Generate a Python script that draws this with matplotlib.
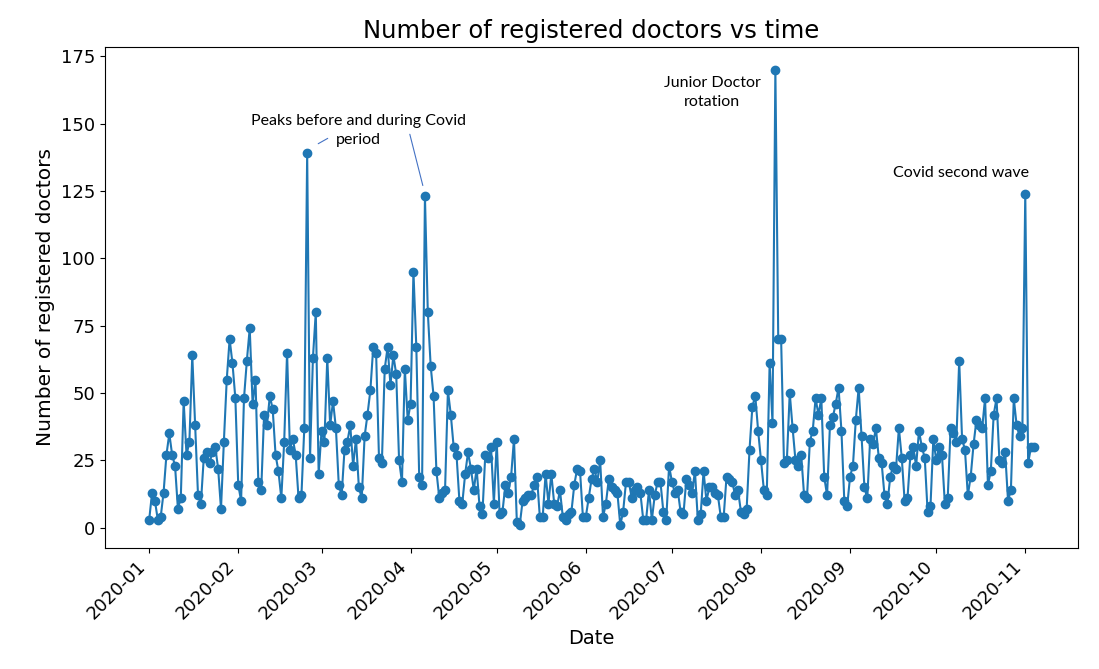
import matplotlib
matplotlib.use("Agg")
import matplotlib.pyplot as plt
import matplotlib.dates as mdates
import pandas as pd

# daily registrations
jan = [3, 13, 10, 3, 4, 13, 27, 35, 27, 23, 7, 11, 47, 27, 32, 64, 38, 12, 9, 26,
       28, 24, 28, 30, 22, 7, 32, 55, 70, 61, 48, 16, 10]
feb = [48, 62, 74, 46, 55, 17, 14, 42, 38, 49, 44, 27, 21, 11, 32, 65, 29, 33, 27, 11,
       12, 37, 139, 26, 63, 80, 20, 36, 32]
mar = [63, 38, 47, 37, 16, 12, 29, 32, 38, 23, 33, 15, 11, 34, 42, 51, 67, 65, 26, 24,
       59, 67, 53, 64, 57, 25, 17, 59, 40, 46, 95]
apr = [67, 19, 16, 123, 80, 60, 49, 21, 11, 13, 14, 51, 42, 30, 27, 10, 9, 20, 28, 22,
       14, 22, 8, 5, 27, 26, 30, 9, 32, 5]
may = [6, 16, 13, 19, 33, 2, 1, 10, 11, 12, 12, 16, 19, 4, 4, 20, 9, 20, 9, 8, 14, 4,
       3, 5, 6, 16, 22, 21, 4, 4, 11, 18, 22]
jun = [17, 25, 4, 9, 18, 15, 14, 13, 1, 6, 17, 17, 11, 14, 15, 13, 3, 3, 14, 3, 12,
       17, 17, 6, 3, 23, 17, 13, 14, 6, 5]
jul = [18, 16, 13, 21, 3, 5, 21, 10, 15, 15, 13, 12, 4, 4, 19, 18, 17, 12, 14, 6, 5, 7,
       29, 45, 49, 36, 25, 14, 12, 61, 39, 170, 70]
aug = [70, 24, 25, 50, 37, 25, 23, 27, 12, 11, 32, 36, 48, 42, 48, 19, 12, 38, 41, 46,
       52, 36, 10, 8, 19, 23, 40, 52, 34, 15, 11]
sep = [33, 31, 37, 26, 24, 12, 9, 19, 23, 22, 37, 26, 10, 11, 27, 30, 23, 36, 30, 26, 6,
       8, 33, 25, 30, 27, 9, 11, 37, 35, 32, 62]
octo = [33, 29, 12, 19, 31, 40, 38, 37, 48, 16, 21, 42, 48, 25, 24, 28, 10, 14, 48, 38,
        34, 37, 124, 24, 30, 30]

counts = jan + feb + mar + apr + may + jun + jul + aug + sep + octo
dates = pd.date_range("2020-01-01", periods=len(counts), freq="D")

fig, ax = plt.subplots(figsize=(10.99, 6.69), dpi=100)
fig.subplots_adjust(left=0.0955, right=0.981, top=0.93, bottom=0.181)

ax.plot(dates, counts, marker="o", color="#1f77b4", linewidth=1.5, markersize=6)

ax.set_title("Number of registered doctors vs time", fontsize=17.5)
ax.set_xlabel("Date", fontsize=14)
ax.set_ylabel("Number of registered doctors", fontsize=14.5)
ax.xaxis.set_major_locator(mdates.MonthLocator())
ax.xaxis.set_major_formatter(mdates.DateFormatter("%Y-%m"))
ax.tick_params(axis="both", labelsize=13)
plt.setp(ax.get_xticklabels(), rotation=45, ha="right")

note_font = dict(family="Lato", fontsize=11.5, ha="center", va="center", linespacing=1.45)
ax.text(pd.Timestamp("2020-03-14"), 147.5, "Peaks before and during Covid\nperiod", **note_font)
ax.annotate("", xy=(pd.Timestamp("2020-02-28"), 142), xytext=(pd.Timestamp("2020-03-04"), 145),
            arrowprops=dict(arrowstyle="-", color="#4472c4", lw=0.8))
ax.annotate("", xy=(pd.Timestamp("2020-04-05 12:00"), 126), xytext=(pd.Timestamp("2020-03-31 12:00"), 147),
            arrowprops=dict(arrowstyle="-", color="#4472c4", lw=0.8))
ax.text(pd.Timestamp("2020-07-15"), 161.5, "Junior Doctor\nrotation", **note_font)
ax.text(pd.Timestamp("2020-10-09 12:00"), 131.5, "Covid second wave", **note_font)

fig.savefig("out.png", dpi=100)
